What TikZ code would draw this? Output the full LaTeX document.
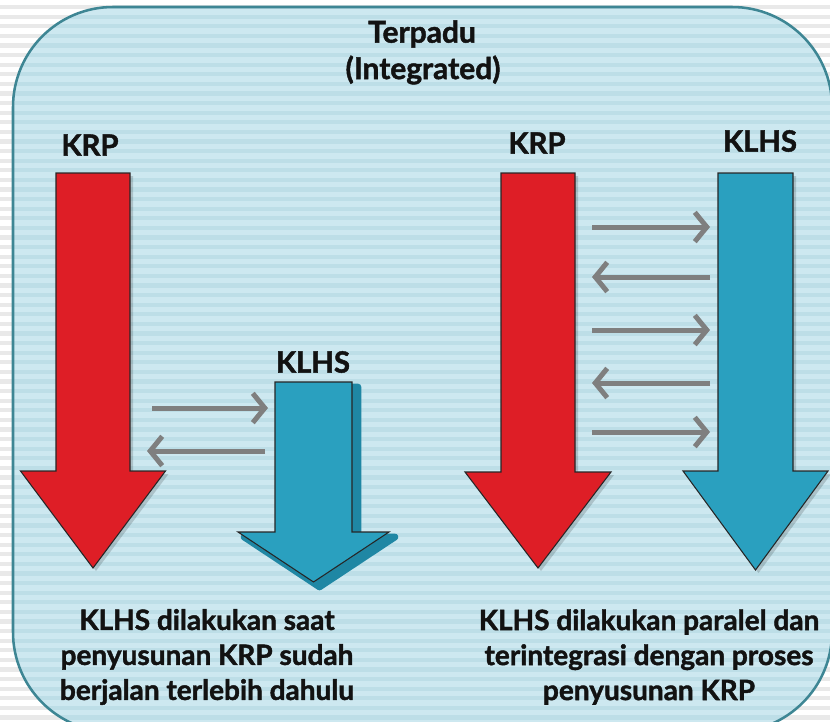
\documentclass[tikz,border=0pt]{standalone}
\usepackage{fontspec}
\setmainfont{Lato}[BoldFeatures={FakeBold=1.5}]
\usetikzlibrary{arrows.meta}
\definecolor{boxfill}{HTML}{CDE8F0}
\definecolor{boxstripe}{HTML}{BDDEE7}
\definecolor{bgstripe}{HTML}{E9E9E9}
\definecolor{boxline}{HTML}{3E8694}
\definecolor{krpred}{HTML}{DE1E26}
\definecolor{klhsblue}{HTML}{2AA0BF}
\definecolor{klhsshadow}{HTML}{1F87A4}
\definecolor{linkgray}{HTML}{7F7F7F}
\definecolor{inktext}{HTML}{121212}
\newcommand\downarrowpath[6]{({#1-#3},#2) -- ({#1+#3},#2) -- ({#1+#3},#4) -- ({#1+#5},#4) -- (#1,#6) -- ({#1-#5},#4) -- ({#1-#3},#4) -- cycle}
\tikzset{
  redarrow/.style={fill=krpred, draw=black!85, line width=0.8pt, line join=miter},
  bluearrow/.style={fill=klhsblue, draw=black!85, line width=0.8pt, line join=miter},
  softshadow/.style={fill=black, opacity=0.16},
  link/.style={draw=linkgray, line width=3.75pt, -{Straight Barb[length=9pt,width=22pt]}},
  heading/.style={font=\fontsize{22.5}{27}\selectfont\bfseries, text=inktext, inner sep=0pt},
  label/.style={font=\fontsize{22}{26}\selectfont\bfseries, text=inktext, inner sep=0pt},
  caption/.style={font=\fontsize{21}{26.25}\selectfont\bfseries, text=inktext, align=center, inner sep=0pt}
}
\begin{document}
\begin{tikzpicture}[x=0.75pt,y=-0.75pt]
\useasboundingbox (0,0) rectangle (830,721);
\clip (0,0) rectangle (830,721);
% background stripes
\fill[white] (0,0) rectangle (830,721);
\foreach \i in {0,...,75} \fill[bgstripe] (0,{\i*9.6+5}) rectangle (830,{\i*9.6+9.2});
% rounded panel
\fill[boxfill, rounded corners=75pt] (13,7) rectangle (832,732);
\begin{scope}
  \clip[rounded corners=75pt] (13,7) rectangle (832,732);
  \foreach \i in {0,...,75} \fill[boxstripe] (0,{\i*9.6+5}) rectangle (830,{\i*9.6+9.2});
\end{scope}
\draw[boxline, line width=1.9pt, rounded corners=75pt] (13,7) rectangle (832,732);

% title
\node[heading] (title) at (422,34) {Terpadu};
\node[heading] (titlesub) at (423,70) {(Integrated)};

% left KRP arrow
\fill[softshadow, shift={(3,3)}] \downarrowpath{93}{173}{37}{471}{72.5}{568};
\draw[redarrow] \downarrowpath{93}{173}{37}{471}{72.5}{568};
\node[label] (krpL) at (90,145) {KRP};

% small KLHS arrow with shadow
\fill[klhsshadow, draw=klhsshadow, line width=5pt, line join=round, shift={(6,5)}] \downarrowpath{313.5}{382}{38.5}{532}{75.5}{582};
\draw[bluearrow] \downarrowpath{313.5}{382}{38.5}{532}{75.5}{582};
\node[label] (klhsS) at (313,362) {KLHS};

% right KRP arrow
\fill[softshadow, shift={(3,3)}] \downarrowpath{538}{173}{37}{472}{73}{568};
\draw[redarrow] \downarrowpath{538}{173}{37}{472}{73}{568};
\node[label] (krpR) at (537,143) {KRP};

% right KLHS arrow
\fill[softshadow, shift={(3,3)}] \downarrowpath{755.5}{173}{37.5}{471}{72.5}{570};
\draw[bluearrow] \downarrowpath{755.5}{173}{37.5}{471}{72.5}{570};
\node[label] (klhsR) at (760,141) {KLHS};

% link endpoints, left pair
\coordinate (l1a) at (152,408); \coordinate (l1b) at (268,408);
\coordinate (l2a) at (265,451); \coordinate (l2b) at (147,451);
\draw[link] (l1a) -- (l1b);
\draw[link] (l2a) -- (l2b);

% link endpoints, right column
\coordinate (r1a) at (592,227); \coordinate (r1b) at (710,227);
\coordinate (r2a) at (710,277); \coordinate (r2b) at (592,277);
\coordinate (r3a) at (592,330); \coordinate (r3b) at (710,330);
\coordinate (r4a) at (710,383); \coordinate (r4b) at (592,383);
\coordinate (r5a) at (592,432); \coordinate (r5b) at (710,432);
\draw[link] (r1a) -- (r1b);
\draw[link] (r2a) -- (r2b);
\draw[link] (r3a) -- (r3b);
\draw[link] (r4a) -- (r4b);
\draw[link] (r5a) -- (r5b);

% captions
\node[caption] (capL) at (207,657) {KLHS dilakukan saat\\penyusunan KRP sudah\\berjalan terlebih dahulu};
\node[caption] (capR) at (649,657) {KLHS dilakukan paralel dan\\terintegrasi dengan proses\\penyusunan KRP};
\end{tikzpicture}
\end{document}
